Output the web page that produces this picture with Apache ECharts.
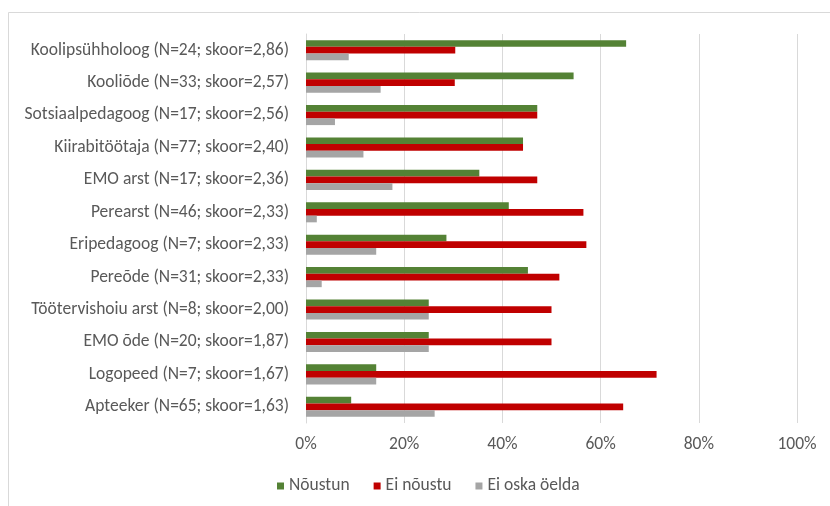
<!DOCTYPE html>
<html>
<head>
<meta charset="utf-8">
<script src="https://cdn.jsdelivr.net/npm/echarts@6/dist/echarts.min.js"></script>
<style>
  html, body { margin: 0; padding: 0; background: #fff; }
  #chart { width: 830px; height: 506px; }
</style>
</head>
<body>
<div id="chart"></div>
<script>
// Professional groups, top to bottom
const categories = [
  'Koolipsühholoog (N=24; skoor=2,86)',
  'Kooliõde (N=33; skoor=2,57)',
  'Sotsiaalpedagoog (N=17; skoor=2,56)',
  'Kiirabitöötaja (N=77; skoor=2,40)',
  'EMO arst (N=17; skoor=2,36)',
  'Perearst (N=46; skoor=2,33)',
  'Eripedagoog (N=7; skoor=2,33)',
  'Pereõde (N=31; skoor=2,33)',
  'Töötervishoiu arst (N=8; skoor=2,00)',
  'EMO õde (N=20; skoor=1,87)',
  'Logopeed (N=7; skoor=1,67)',
  'Apteeker (N=65; skoor=1,63)'
];

// Answer shares, percent
const agree    = [65.2, 54.5, 47.1, 44.2, 35.3, 41.3, 28.6, 45.2, 25.0, 25.0, 14.3, 9.2];
const disagree = [30.4, 30.3, 47.1, 44.2, 47.1, 56.5, 57.1, 51.6, 50.0, 50.0, 71.4, 64.6];
const dontKnow = [8.7, 15.2, 5.9, 11.7, 17.6, 2.2, 14.3, 3.2, 25.0, 25.0, 14.3, 26.2];

const seriesNames = ['Nõustun', 'Ei nõustu', 'Ei oska öelda'];
const seriesColors = ['#548235', '#C00000', '#A5A5A5'];

const font = 'Calibri, Carlito, "Open Sans", sans-serif';
const textColor = '#595959';
const fontSize = 17.5;

const chart = echarts.init(document.getElementById('chart'), null, { renderer: 'canvas' });

const values = [agree, disagree, dontKnow];

chart.setOption({
  animation: false,
  backgroundColor: '#ffffff',
  graphic: [{
    type: 'rect',
    shape: { x: 8.5, y: 12.5, width: 900, height: 600 },
    style: { fill: 'none', stroke: '#D9D9D9', lineWidth: 1 },
    silent: true
  }],
  grid: { left: 306, right: 33, top: 34, bottom: 83, containLabel: false },
  xAxis: {
    type: 'value',
    min: 0, max: 100, interval: 20,
    axisLine: { show: false },
    axisTick: { show: false },
    splitLine: { show: true, lineStyle: { color: '#D9D9D9', width: 1 } },
    axisLabel: {
      formatter: v => v + '%',
      color: textColor, fontFamily: font, fontSize: fontSize, margin: 13
    }
  },
  yAxis: {
    type: 'category',
    data: categories,
    inverse: true,
    axisLine: { show: true, lineStyle: { color: '#D9D9D9', width: 1 } },
    axisTick: { show: false },
    axisLabel: { color: textColor, fontFamily: font, fontSize: fontSize, margin: 17 }
  },
  legend: {
    data: seriesNames,
    left: 272, top: 472,
    itemWidth: 7, itemHeight: 7, itemGap: 24,
    icon: 'rect',
    textStyle: { color: textColor, fontFamily: font, fontSize: fontSize, padding: [0, 0, 0, 0] }
  },
  series: seriesNames.map((name, i) => ({
    name,
    type: 'bar',
    data: values[i],
    itemStyle: { color: seriesColors[i] },
    barGap: '0%',
    barCategoryGap: '38%'
  }))
});
</script>
</body>
</html>
